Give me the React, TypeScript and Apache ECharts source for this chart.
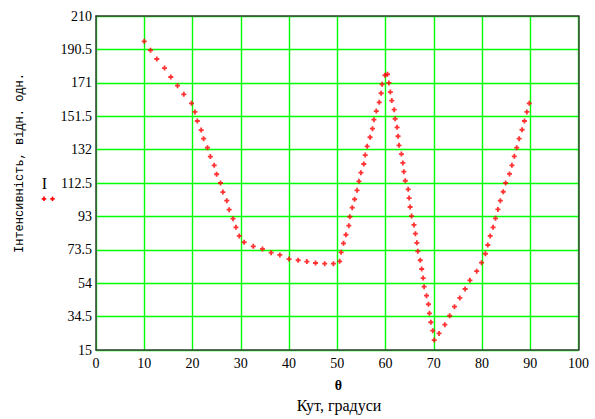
import React, { useEffect, useRef } from "react";
import * as echarts from "echarts";

const angles = [
  10.0, 11.3, 12.6, 14.2, 15.5, 16.9, 18.2, 19.8, 20.5, 21.0, 21.8, 22.3, 23.1, 23.7, 24.5, 25.0, 25.8, 26.3,
  27.1, 27.6, 28.4, 29.0, 29.7, 30.7, 32.6, 34.5, 36.3, 38.1, 40.0, 41.9, 43.7, 45.5, 47.4, 49.2, 50.5, 50.8,
  51.3, 51.8, 52.4, 52.6, 53.1, 53.6, 54.1, 54.5, 54.9, 55.5, 55.8, 56.2, 56.8, 57.3, 57.6, 58.1, 58.7, 59.1,
  59.3, 59.9, 60.4, 60.7, 61.0, 61.3, 61.8, 62.0, 62.4, 62.6, 62.8, 63.3, 63.6, 63.8, 64.1, 64.7, 64.9, 65.1,
  65.4, 65.9, 66.2, 66.5, 66.7, 67.2, 67.5, 67.8, 68.0, 68.5, 68.9, 69.1, 69.4, 69.8, 70.1, 71.1, 72.3, 73.3,
  74.3, 75.4, 76.5, 77.5, 78.9, 79.9, 80.7, 81.2, 81.7, 82.3, 82.8, 83.3, 83.8, 84.4, 84.9, 85.7, 86.2, 86.7,
  87.2, 87.7, 88.3, 88.8, 89.3, 89.8,
];

const intensity = [
  195.2, 190.0, 184.9, 179.6, 174.4, 169.3, 164.3, 159.0, 154.0, 148.7, 143.4, 138.4, 133.1, 127.9, 122.8, 117.6, 112.5, 107.2,
  102.2, 96.9, 91.7, 86.6, 81.6, 77.9, 75.5, 74.0, 71.8, 70.5, 68.1, 67.4, 66.6, 65.8, 65.4, 65.4, 66.8, 72.0,
  77.3, 82.3, 87.6, 92.8, 98.1, 103.0, 108.2, 113.5, 118.5, 123.6, 128.8, 133.9, 139.2, 144.2, 149.5, 154.5, 159.6, 164.9,
  170.1, 175.4, 176.0, 170.9, 165.6, 160.6, 155.3, 150.0, 145.0, 139.8, 134.5, 129.4, 124.2, 119.1, 113.8, 108.8, 103.7, 98.5,
  93.2, 88.0, 82.9, 77.6, 72.6, 67.4, 62.3, 57.0, 52.0, 46.7, 41.7, 36.4, 31.2, 26.3, 20.8, 24.7, 29.8, 35.0,
  40.3, 45.4, 50.6, 55.7, 61.0, 66.0, 71.2, 76.3, 81.6, 86.6, 91.9, 97.1, 102.2, 107.4, 112.5, 117.8, 122.8, 128.1,
  133.1, 138.4, 143.6, 148.7, 154.0, 159.0,
];

const yTicks = [15, 34.5, 54, 73.5, 93, 112.5, 132, 151.5, 171, 190.5, 210];

const yAxisTitle = "Інтенсивність, відн. одн.";
const xAxisTitle = "Кут, градуси";
const xVarName = "θ";
const seriesName = "I";

const PLUS = "path://M1.6,0H3.4V1.6H5V3.4H3.4V5H1.6V3.4H0V1.6H1.6Z";
const SERIF = "Liberation Serif";
const MONO = "Liberation Mono";
const GREEN = "#00ff00";
const BORDER = "#3c3c3c";

export default function App() {
  const ref = useRef<HTMLDivElement>(null);

  useEffect(() => {
    if (!ref.current) return;
    const chart = echarts.init(ref.current, undefined, { renderer: "svg" });
    const data = angles.map((a, i) => [a, intensity[i]]);
    const labelStyle = { color: "#000", fontFamily: SERIF, fontSize: 14 };

    chart.setOption({
      animation: false,
      backgroundColor: "#fff",
      grid: { left: 96, top: 16, right: 16.5, bottom: 69, containLabel: false },
      xAxis: [
        {
          type: "value",
          min: 0,
          max: 100,
          interval: 10,
          axisLine: { show: true, onZero: false, lineStyle: { color: BORDER, width: 1.5 } },
          axisTick: { show: false },
          axisLabel: { ...labelStyle, margin: 6 },
          splitLine: { show: true, lineStyle: { color: GREEN, width: 1.4 } },
        },
        {
          type: "value",
          position: "top",
          min: 0,
          max: 100,
          interval: 10,
          axisLine: { show: true, onZero: false, lineStyle: { color: BORDER, width: 1.5 } },
          axisTick: { show: false },
          axisLabel: { show: false },
          splitLine: { show: false },
        },
      ],
      yAxis: [
        {
          type: "value",
          min: 15,
          max: 210,
          axisLine: { show: true, onZero: false, lineStyle: { color: BORDER, width: 1.5 } },
          axisTick: { show: false, customValues: yTicks },
          axisLabel: { ...labelStyle, margin: 4, customValues: yTicks },
          splitLine: { show: true, lineStyle: { color: GREEN, width: 1.4 } },
        },
        {
          type: "value",
          position: "right",
          min: 15,
          max: 210,
          axisLine: { show: true, onZero: false, lineStyle: { color: BORDER, width: 1.5 } },
          axisTick: { show: false },
          axisLabel: { show: false },
          splitLine: { show: false },
        },
      ],
      series: [
        {
          name: seriesName,
          type: "scatter",
          xAxisIndex: 0,
          yAxisIndex: 0,
          data,
          symbol: PLUS,
          symbolSize: 5,
          itemStyle: { color: "#ff0000" },
          z: 5,
        },
      ],
      graphic: [
        {
          type: "text",
          x: 20,
          y: 163,
          rotation: Math.PI / 2,
          style: {
            text: yAxisTitle,
            font: `12px ${MONO}`,
            fill: "#000",
            align: "center",
            verticalAlign: "middle",
          },
        },
        {
          type: "text",
          x: 44.3,
          y: 183,
          style: { text: seriesName, font: `16px ${SERIF}`, fill: "#000", align: "center", verticalAlign: "middle" },
        },
        { type: "rect", shape: { x: 41.7, y: 198.1, width: 4.5, height: 1.6 }, style: { fill: "#ff0000" } },
        { type: "rect", shape: { x: 43.2, y: 196.6, width: 1.6, height: 4.5 }, style: { fill: "#ff0000" } },
        { type: "rect", shape: { x: 50.2, y: 198.1, width: 4.5, height: 1.6 }, style: { fill: "#ff0000" } },
        { type: "rect", shape: { x: 51.7, y: 196.6, width: 1.6, height: 4.5 }, style: { fill: "#ff0000" } },
        {
          type: "text",
          x: 338.5,
          y: 385,
          style: { text: xVarName, font: `bold 14px ${SERIF}`, fill: "#000", align: "center", verticalAlign: "middle" },
        },
        {
          type: "text",
          x: 339,
          y: 405,
          style: { text: xAxisTitle, font: `16px ${SERIF}`, fill: "#000", align: "center", verticalAlign: "middle" },
        },
      ],
    });

    return () => chart.dispose();
  }, []);

  return (
    <div
      ref={ref}
      style={{ position: "absolute", left: 0, top: 0, width: 595, height: 419 }}
    />
  );
}
